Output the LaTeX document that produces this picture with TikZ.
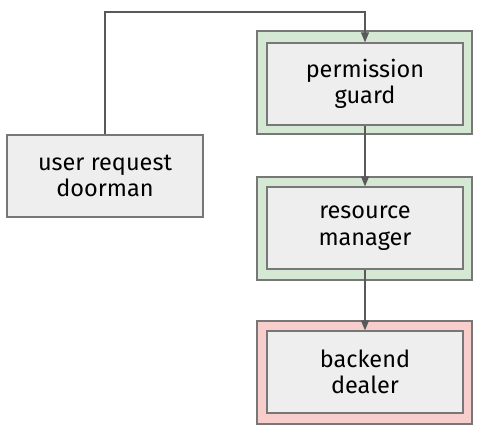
\documentclass[tikz,border=0pt]{standalone}
\usepackage{fontspec}
\setmainfont{Fira Sans}
\usetikzlibrary{arrows.meta}
\definecolor{boxfill}{HTML}{EEEEEE}
\definecolor{boxline}{HTML}{777777}
\definecolor{greenfill}{HTML}{D5E8D4}
\definecolor{redfill}{HTML}{F8CECC}
\definecolor{arrowline}{HTML}{595959}
\begin{document}
\begin{tikzpicture}[x=1pt,y=-1pt,
  outerbox/.style={draw=boxline,line width=1.3pt,minimum width=215pt,minimum height=103pt,inner sep=0pt},
  innerbox/.style={draw=boxline,fill=boxfill,line width=1.3pt,minimum width=196pt,minimum height=82pt,inner sep=0pt,
    align=center,font=\fontsize{23.5}{26.5}\selectfont},
  conn/.style={draw=arrowline,line width=1.1pt,-{Triangle[length=10pt,width=8pt]}}]
\useasboundingbox (0,0) rectangle (483,433);
\node[outerbox,fill=greenfill] (o1) at (364.5,82.5) {};
\node[outerbox,fill=greenfill] (o2) at (364.5,228.5) {};
\node[outerbox,fill=redfill] (o3) at (364.5,372.5) {};
\node[innerbox] (guard) at (365,84) {permission\\guard};
\node[innerbox] (manager) at (365,228) {resource\\manager};
\node[innerbox] (dealer) at (365,372) {backend\\dealer};
\node[innerbox] (doorman) at (105,176) {user request\\doorman};
\coordinate (top) at (105,12);
\draw[conn] (doorman.north) -- (top) -| (guard.north);
\draw[conn] (guard.south) -- (manager.north);
\draw[conn] (manager.south) -- (dealer.north);
\end{tikzpicture}
\end{document}
